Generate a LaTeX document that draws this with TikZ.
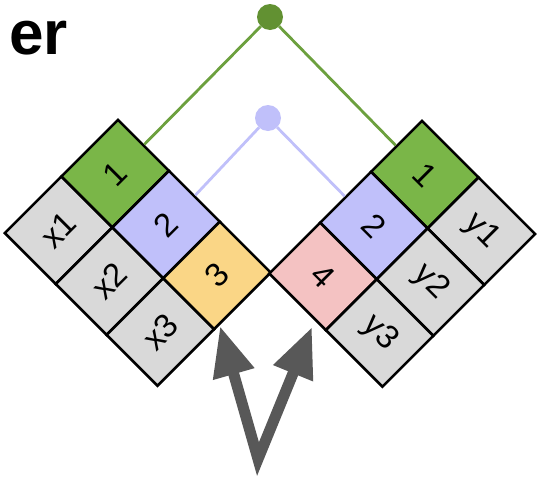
\documentclass[tikz,border=0pt]{standalone}
\usepackage{fontspec}
\setmainfont{Liberation Sans}
\usetikzlibrary{arrows.meta}

\definecolor{cgreen}{RGB}{122,182,72}
\definecolor{cgreendot}{RGB}{98,145,50}
\definecolor{cgreenline}{RGB}{108,160,62}
\definecolor{cblue}{RGB}{192,192,250}
\definecolor{cyellow}{RGB}{250,214,134}
\definecolor{cpink}{RGB}{244,194,194}
\definecolor{cgray}{RGB}{217,217,217}
\definecolor{carrow}{RGB}{88,88,88}

\begin{document}
\begin{tikzpicture}[x=1pt,y=1pt,
  cell/.style={draw=black, line width=2.6pt, minimum width=80pt, minimum height=72pt,
    inner sep=0pt, anchor=north west, transform shape, font=\fontsize{33}{33}\selectfont},
  dot/.style={circle, inner sep=0pt, minimum size=26pt},
  link/.style={line width=2.8pt},
  bigarrow/.style={carrow, line width=11pt, line join=miter,
    {Triangle[length=50pt,width=40pt]}-{Triangle[length=50pt,width=40pt]}}]
\useasboundingbox (0,0) rectangle (539,-477);

\node[font=\bfseries\fontsize{62}{62}\selectfont, anchor=base west, inner sep=0pt] (title) at (9,-54) {er};

% left block
\begin{scope}[shift={(3,-233)}, rotate=45]
  \node[cell, fill=cgray] (x1) at (0,0) {x1};
  \node[cell, fill=cgreen] (l1) at (80,0) {1};
  \node[cell, fill=cgray] (x2) at (0,-72) {x2};
  \node[cell, fill=cblue] (l2) at (80,-72) {2};
  \node[cell, fill=cgray] (x3) at (0,-144) {x3};
  \node[cell, fill=cyellow] (l3) at (80,-144) {3};
\end{scope}

% right block
\begin{scope}[shift={(422,-119)}, rotate=-45]
  \node[cell, fill=cgreen] (r1) at (0,0) {1};
  \node[cell, fill=cgray] (y1) at (80,0) {y1};
  \node[cell, fill=cblue] (r2) at (0,-72) {2};
  \node[cell, fill=cgray] (y2) at (80,-72) {y2};
  \node[cell, fill=cpink] (r4) at (0,-144) {4};
  \node[cell, fill=cgray] (y3) at (80,-144) {y3};
\end{scope}

% dots and links
\node[dot, fill=cgreendot] (gdot) at (270,-17) {};
\node[dot, fill=cblue] (bdot) at (268,-118) {};
\draw[link, cgreenline] (l1.east) -- (gdot);
\draw[link, cgreenline] (gdot) -- (r1.west);
\draw[link, cblue] (l2.east) -- (bdot);
\draw[link, cblue] (bdot) -- (r2.west);

% arrows
\coordinate (tail) at (258,-459);
\coordinate (tipL) at (220,-326);
\coordinate (tipR) at (312,-327);
\draw[bigarrow] (tipL) -- (tail) -- (tipR);
\end{tikzpicture}
\end{document}
